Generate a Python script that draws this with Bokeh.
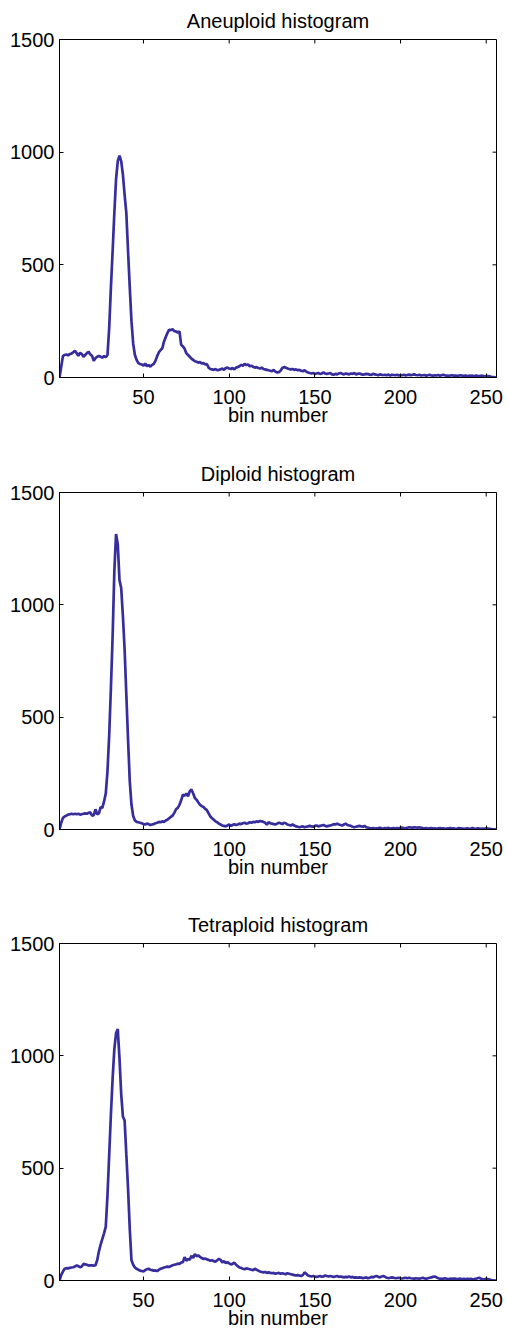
import math
from bokeh.plotting import figure
from bokeh.layouts import column
from bokeh.models import Range1d, FixedTicker
from bokeh.embed import file_html
from bokeh.resources import INLINE

# ---- data (counts per bin) ----
bins = list(range(1, 257))

aneuploid = [
    0, 48, 95, 100, 102, 98, 104, 106, 112, 118,
    108, 96, 110, 104, 92, 100, 108, 114, 102, 96,
    74, 86, 92, 96, 92, 88, 95, 90, 100, 220,
    400, 560, 730, 880, 960, 985, 960, 900, 810, 730,
    560, 400, 250, 150, 100, 78, 64, 60, 58, 52,
    62, 50, 55, 48, 56, 60, 74, 95, 112, 122,
    130, 160, 180, 198, 212, 210, 214, 206, 204, 200,
    205, 145, 138, 128, 108, 100, 92, 84, 78, 72,
    70, 66, 68, 62, 64, 58, 60, 44, 38, 36,
    34, 38, 32, 34, 36, 40, 34, 42, 44, 40,
    38, 42, 36, 44, 46, 50, 56, 52, 60, 55,
    58, 50, 52, 48, 44, 46, 42, 40, 44, 38,
    36, 34, 32, 30, 28, 34, 26, 22, 24, 30,
    42, 46, 44, 40, 38, 36, 38, 34, 36, 32,
    34, 30, 28, 32, 26, 22, 20, 18, 20, 16,
    18, 20, 16, 18, 22, 18, 16, 18, 20, 14,
    12, 16, 14, 18, 20, 16, 14, 18, 16, 14,
    18, 16, 20, 14, 16, 18, 15, 12, 14, 16,
    15, 13, 12, 16, 14, 12, 10, 14, 12, 11,
    12, 10, 13, 9, 12, 11, 10, 12, 9, 11,
    10, 12, 9, 11, 13, 10, 12, 14, 11, 10,
    12, 9, 10, 11, 8, 10, 12, 9, 8, 10,
    9, 11, 8, 10, 12, 9, 8, 7, 9, 10,
    8, 9, 7, 8, 10, 8, 7, 9, 6, 8,
    7, 8, 6, 9, 7, 6, 8, 7, 5, 6,
    6, 5, 3, 2, 1, 0,
]

diploid = [
    0, 30, 52, 58, 62, 66, 68, 70, 68, 70,
    68, 70, 66, 68, 70, 72, 70, 74, 76, 62,
    64, 90, 68, 72, 100, 96, 125, 160, 260, 420,
    630, 860, 1150, 1315, 1270, 1110, 1075, 950, 800, 600,
    400, 215, 110, 60, 40, 34, 32, 30, 28, 24,
    22, 26, 24, 20, 22, 24, 28, 30, 34, 32,
    36, 34, 40, 44, 50, 56, 62, 74, 90, 96,
    110, 130, 155, 150, 160, 148, 170, 178, 160, 140,
    132, 120, 110, 104, 100, 92, 86, 72, 58, 50,
    44, 36, 32, 26, 22, 18, 16, 14, 18, 22,
    16, 20, 24, 20, 22, 26, 24, 28, 30, 26,
    28, 32, 30, 34, 32, 36, 34, 38, 36, 34,
    30, 22, 32, 28, 26, 24, 22, 26, 30, 28,
    24, 30, 28, 22, 20, 18, 22, 18, 14, 12,
    10, 12, 14, 10, 12, 14, 16, 14, 12, 16,
    18, 14, 16, 18, 20, 16, 14, 16, 18, 20,
    24, 22, 26, 22, 20, 18, 22, 26, 20, 18,
    16, 12, 10, 12, 14, 16, 14, 12, 16, 10,
    8, 6, 5, 6, 4, 5, 6, 8, 5, 4,
    6, 5, 7, 4, 5, 6, 4, 6, 5, 7,
    8, 6, 5, 8, 10, 9, 8, 10, 9, 8,
    10, 8, 6, 5, 6, 4, 5, 6, 4, 5,
    3, 5, 6, 4, 5, 3, 4, 5, 6, 4,
    5, 3, 4, 6, 5, 4, 3, 4, 5, 3,
    4, 6, 4, 3, 5, 4, 3, 4, 3, 5,
    4, 3, 2, 1, 1, 0,
]

tetraploid = [
    0, 25, 40, 52, 55, 54, 56, 58, 59, 62,
    67, 64, 59, 62, 74, 72, 70, 66, 68, 67,
    66, 68, 90, 130, 160, 185, 210, 240, 380, 560,
    740, 900, 1030, 1100, 1119, 990, 830, 730, 712, 560,
    410, 230, 90, 70, 58, 52, 48, 44, 42, 40,
    46, 50, 52, 48, 46, 44, 45, 42, 48, 52,
    55, 58, 60, 62, 60, 64, 68, 70, 72, 75,
    74, 80, 82, 104, 88, 96, 92, 110, 100, 118,
    108, 112, 105, 100, 96, 98, 94, 92, 88, 90,
    86, 84, 90, 96, 92, 80, 86, 78, 82, 76,
    72, 74, 80, 70, 64, 58, 56, 52, 50, 54,
    52, 50, 48, 46, 52, 48, 44, 40, 38, 36,
    38, 34, 36, 34, 32, 34, 30, 32, 34, 30,
    32, 30, 28, 32, 30, 28, 26, 24, 22, 24,
    22, 20, 24, 36, 30, 22, 20, 18, 20, 18,
    16, 18, 20, 17, 18, 22, 20, 18, 20, 18,
    16, 18, 20, 16, 18, 16, 14, 16, 15, 18,
    14, 16, 12, 14, 12, 14, 13, 10, 12, 14,
    10, 12, 16, 14, 18, 20, 16, 14, 18, 20,
    16, 12, 10, 12, 14, 12, 10, 11, 12, 10,
    9, 11, 12, 10, 12, 10, 9, 8, 10, 9,
    8, 10, 12, 9, 8, 10, 12, 14, 16, 18,
    14, 10, 8, 7, 8, 10, 7, 6, 8, 7,
    9, 8, 6, 7, 8, 6, 7, 5, 8, 6,
    7, 5, 6, 8, 10, 12, 8, 6, 5, 7,
    6, 4, 2, 1, 0, 0,
]

titles = ["Aneuploid histogram", "Diploid histogram", "Tetraploid histogram"]
x_ticks = [50, 100, 150, 200, 250]
y_ticks = [0, 500, 1000, 1500]
x_label = "bin number"
X_MIN, X_MAX = 1, 256
Y_MIN, Y_MAX = 0, 1500

FONT = "Liberation Sans"
LINE_COLOR = "#372d9c"
TICK_LEN = 4


def make_panel(title, counts, width, height, border_left, border_right,
               border_bottom):
    p = figure(width=width, height=height, output_backend="svg",
               toolbar_location=None, title=title,
               x_range=Range1d(X_MIN, X_MAX), y_range=Range1d(Y_MIN, Y_MAX),
               min_border_left=border_left, min_border_right=border_right,
               min_border_top=39, min_border_bottom=border_bottom,
               background_fill_color="white", border_fill_color="white")
    p.title.align = "center"
    p.title.vertical_align = "top"
    p.title.text_font = FONT
    p.title.text_font_size = "20px"
    p.title.text_font_style = "normal"
    p.title.text_color = "black"
    p.title.standoff = 12
    p.title.offset = 0

    p.xgrid.visible = False
    p.ygrid.visible = False
    p.outline_line_color = "black"
    p.outline_line_width = 1

    p.xaxis.ticker = FixedTicker(ticks=x_ticks)
    p.yaxis.ticker = FixedTicker(ticks=y_ticks)
    p.xaxis.axis_label = x_label

    for ax in (p.xaxis[0], p.yaxis[0]):
        ax.major_tick_in = TICK_LEN
        ax.major_tick_out = 0
        ax.minor_tick_in = 0
        ax.minor_tick_out = 0
        ax.axis_line_color = "black"
        ax.major_tick_line_color = "black"
        ax.major_label_text_font = FONT
        ax.major_label_text_font_size = "20px"
        ax.major_label_text_color = "black"
        ax.axis_label_text_font = FONT
        ax.axis_label_text_font_size = "20px"
        ax.axis_label_text_font_style = "normal"
        ax.axis_label_text_color = "black"
    p.xaxis.major_label_standoff = 12
    p.xaxis.axis_label_standoff = -3
    p.yaxis.major_label_standoff = 5

    # mirrored inward ticks on the top and right edges of the frame
    p.ray(x=x_ticks, y=[Y_MAX] * len(x_ticks), length=TICK_LEN,
          length_units="screen", angle=-math.pi / 2,
          line_color="black", line_width=1)
    p.ray(x=[X_MAX] * len(y_ticks), y=y_ticks, length=TICK_LEN,
          length_units="screen", angle=math.pi,
          line_color="black", line_width=1)

    p.line(bins, counts, line_color=LINE_COLOR, line_width=2.7)
    return p


p1 = make_panel(titles[0], aneuploid, 507, 453, 59, 8, 76)
p2 = make_panel(titles[1], diploid, 507, 451, 59, 8, 75)
p3 = make_panel(titles[2], tetraploid, 507, 428, 56, 11, 52)

layout = column(p1, p2, p3, spacing=0)

open("out.html", "w").write(file_html(layout, INLINE))
